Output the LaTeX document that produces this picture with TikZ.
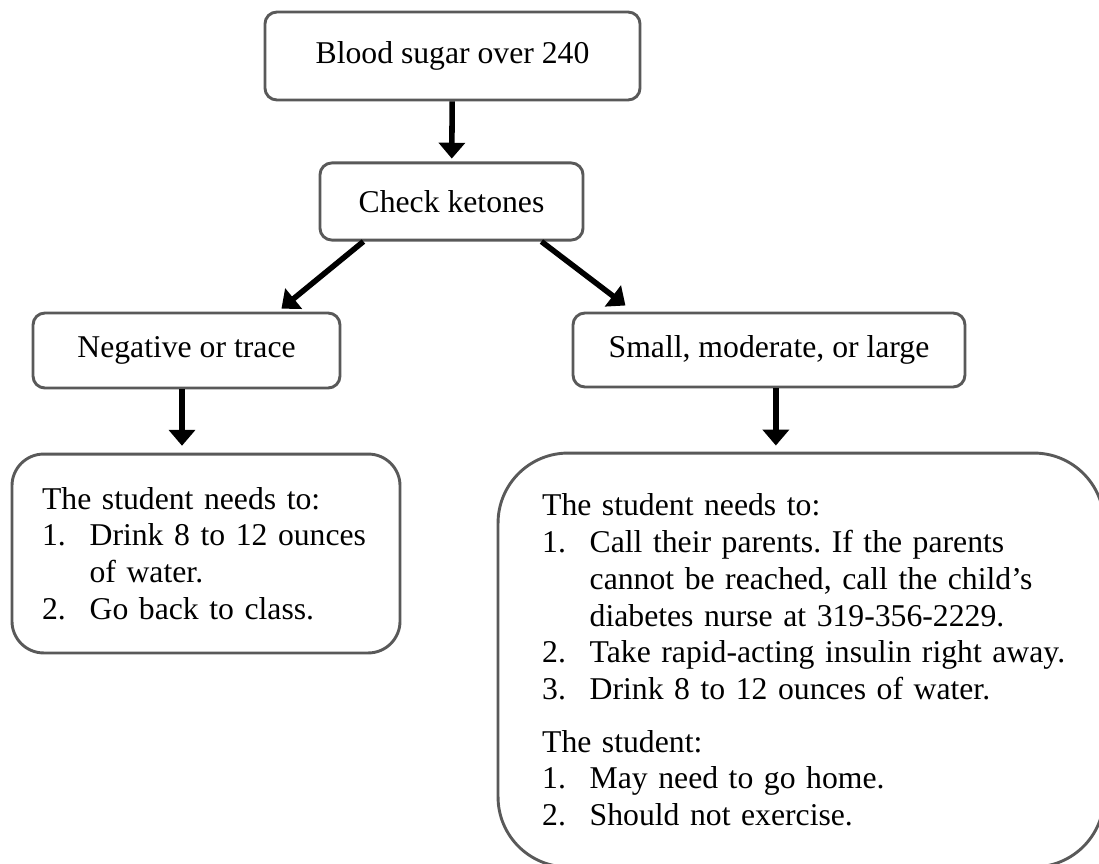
\documentclass[tikz,border=0pt]{standalone}
\usepackage{fontspec}
\setmainfont{Liberation Serif}
\usetikzlibrary{arrows.meta,positioning}
\definecolor{boxgray}{RGB}{89,89,89}
\frenchspacing
\newcommand{\numline}[2]{\mbox{\makebox[18pt][l]{#1}#2}}
\newcommand{\contline}[1]{\mbox{\hspace*{18pt}#1}}
\tikzset{
  stepbox/.style={draw=boxgray,line width=1.1pt,rounded corners=4.5pt,
    align=center,inner sep=4pt,font=\fontsize{12pt}{13.9pt}\selectfont},
  listbox/.style={draw=boxgray,line width=1.1pt,align=left,
    font=\fontsize{12pt}{13.9pt}\selectfont},
  flow/.style={-{Triangle[width=9.8pt,length=6pt]},line width=2.1pt,draw=black}
}

\begin{document}
\begin{tikzpicture}[x=0.3786pt,y=-0.3786pt]
  \useasboundingbox (0,0) rectangle (1099,864);
  \clip (0,0) rectangle (1099,864);
  % decision steps
  \node[stepbox,minimum width=142pt,minimum height=33.3pt] (sugar) at (452.5,56) {Blood sugar over 240};
  \node[stepbox,minimum width=99.6pt,minimum height=29.2pt] (ketones) at (451.5,201.5) {Check ketones};
  \node[stepbox,minimum width=116.2pt,minimum height=28.4pt] (negative) at (186.5,350.5) {Negative or trace};
  \node[stepbox,minimum width=148.4pt,minimum height=28pt] (positive) at (769,350) {Small, moderate, or large};
  % what to do
  \node[listbox,rounded corners=12pt,minimum width=146.9pt,minimum height=75.3pt,
    text width=124.1pt,inner xsep=11.4pt] (stay) at (206,553.5) {
    The student needs to:\\
    \numline{1.}{Drink 8 to 12 ounces}\\
    \contline{of water.}\\
    \numline{2.}{Go back to class.}};
  \node[listbox,rounded corners=26.5pt,minimum width=229.4pt,minimum height=156.7pt,
    text width=196pt,inner xsep=16.7pt] (home) at (801,660) {
    The student needs to:\\
    \numline{1.}{Call their parents. If the parents}\\
    \contline{cannot be reached, call the child’s}\\
    \contline{diabetes nurse at 319-356-2229.}\\
    \numline{2.}{Take rapid-acting insulin right away.}\\
    \numline{3.}{Drink 8 to 12 ounces of water.}\\[6pt]
    The student:\\
    \numline{1.}{May need to go home.}\\
    \numline{2.}{Should not exercise.}};
  \draw[flow,shorten >=1.1pt] (sugar) -- (ketones);
  \draw[flow] ([xshift=17pt]ketones.south west) -- ([xshift=-22.7pt,yshift=1.1pt]negative.north east);
  \draw[flow] ([xshift=-16.3pt]ketones.south east) -- ([xshift=20.4pt,yshift=2.3pt]positive.north west);
  \draw[flow,shorten >=2.6pt] ([xshift=-1.7pt]negative.south) -- ([xshift=-1.7pt]negative.south |- stay.north);
  \draw[flow,shorten >=2.3pt] ([xshift=2.6pt]positive.south) -- ([xshift=2.6pt]positive.south |- home.north);
\end{tikzpicture}
\end{document}
